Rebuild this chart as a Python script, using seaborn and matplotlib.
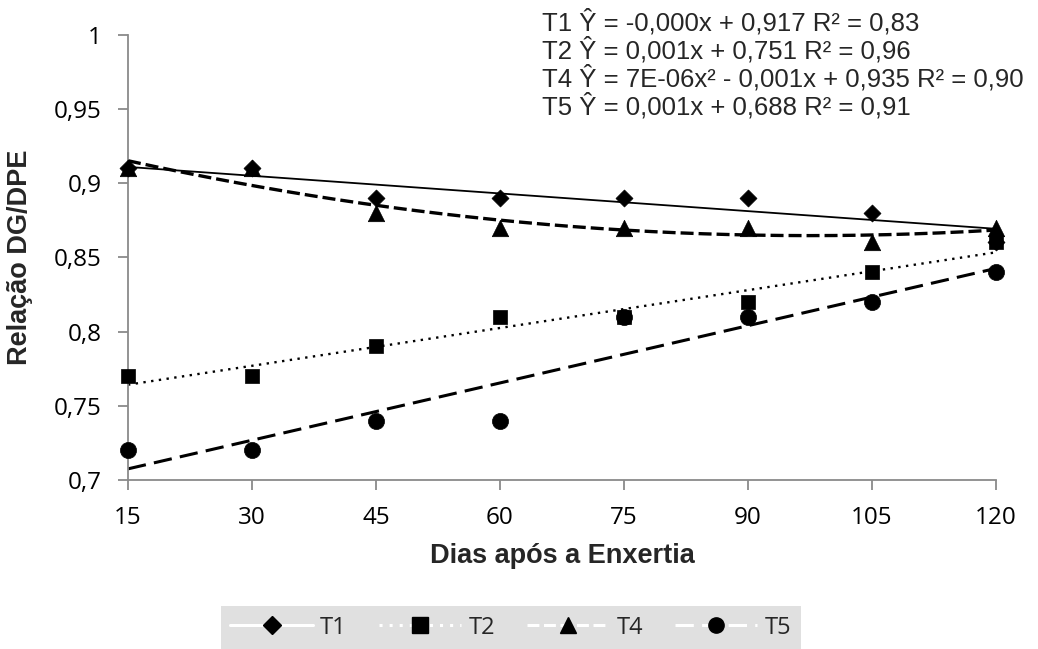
import numpy as np
import pandas as pd
import matplotlib
matplotlib.use("Agg")
import matplotlib.pyplot as plt
import seaborn as sns
from matplotlib.lines import Line2D

days = [15, 30, 45, 60, 75, 90, 105, 120]
t1 = [0.91, 0.91, 0.89, 0.89, 0.89, 0.89, 0.88, 0.86]
t2 = [0.77, 0.77, 0.79, 0.81, 0.81, 0.82, 0.84, 0.86]
t4 = [0.91, 0.91, 0.88, 0.87, 0.87, 0.87, 0.86, 0.87]
t5 = [0.72, 0.72, 0.74, 0.74, 0.81, 0.81, 0.82, 0.84]
series_names = ["T1", "T2", "T4", "T5"]
equations = [
    "T1 Ŷ = -0,000x + 0,917 R² = 0,83",
    "T2 Ŷ = 0,001x + 0,751 R² = 0,96",
    "T4 Ŷ = 7E-06x² - 0,001x + 0,935 R² = 0,90",
    "T5 Ŷ = 0,001x + 0,688 R² = 0,91",
]
yticks = [0.7, 0.75, 0.8, 0.85, 0.9, 0.95, 1.0]
ytick_labels = ["0,7", "0,75", "0,8", "0,85", "0,9", "0,95", "1"]

sns.set_style("white")
plt.rcParams['font.family'] = ['Liberation Sans', 'DejaVu Sans']
TICKFONT = ['Open Sans', 'DejaVu Sans']

fig = plt.figure(figsize=(10.38, 6.49), dpi=100)
ax = fig.add_axes([0.1233, 0.2604, 0.8362, 0.6864])

markers = {"T1": "D", "T2": "s", "T4": "^", "T5": "o"}
msize = {"T1": 75, "T2": 115, "T4": 140, "T5": 135}
styles = {"T1": "-", "T2": (0, (1, 2.3)), "T4": (0, (3.9, 1.5)), "T5": (0, (6.0, 2.7))}
widths = {"T1": 1.3, "T2": 1.7, "T4": 2.4, "T5": 2.2}
degrees = {"T1": 1, "T2": 1, "T4": 2, "T5": 1}
data = {"T1": t1, "T2": t2, "T4": t4, "T5": t5}

x = np.array(days, dtype=float)
xs = np.linspace(15, 120, 200)
for name in series_names:
    y = np.array(data[name])
    coef = np.polyfit(x, y, degrees[name])
    fit = pd.DataFrame({"x": xs, "y": np.polyval(coef, xs)})
    sns.lineplot(data=fit, x="x", y="y", ax=ax, color="black",
                 linestyle=styles[name], linewidth=widths[name], zorder=2)

for name in ["T1", "T5", "T2", "T4"]:
    df = pd.DataFrame({"x": days, "y": data[name]})
    sns.scatterplot(data=df, x="x", y="y", ax=ax, marker=markers[name],
                    s=msize[name], color="black", edgecolor="black",
                    linewidth=0.5, zorder=3, clip_on=False)

ax.set_xlim(15, 120)
ax.set_ylim(0.7, 1.0)
ax.set_xticks(days)
ax.set_xticklabels([str(d) for d in days], fontsize=17.5, family=TICKFONT)
ax.set_yticks(yticks)
ax.set_yticklabels(ytick_labels, fontsize=17.5, family=TICKFONT)
ax.set_xlabel("Dias após a Enxertia", fontsize=19.5, fontweight="bold", labelpad=9)
ax.set_ylabel("Relação DG/DPE", fontsize=19.5, fontweight="bold", labelpad=15)

for side in ["top", "right"]:
    ax.spines[side].set_visible(False)
for side in ["left", "bottom"]:
    ax.spines[side].set_color("#8a8a8a")
    ax.spines[side].set_linewidth(1.3)
ax.tick_params(axis="both", direction="out", length=7, width=1.3,
               color="#8a8a8a", labelcolor="black", pad=12)
ax.tick_params(axis="x", bottom=True)
ax.tick_params(axis="y", left=True)

for i, eq in enumerate(equations):
    fig.text(0.522, 0.9535 - i * 0.0431, eq, fontsize=18.5, ha="left", va="baseline")

handles = []
for name in series_names:
    handles.append(Line2D([0], [0], color="white", linestyle=styles[name], linewidth=2.2,
                          marker=markers[name], markersize=11 if name != "T1" else 9,
                          markerfacecolor="black", markeredgecolor="black"))
leg = fig.legend(handles, series_names, loc="lower center", bbox_to_anchor=(0.492, 0.0),
                 ncol=4, frameon=True, fancybox=False, facecolor="#d9d9d9",
                 edgecolor="#d9d9d9", prop={"family": TICKFONT, "size": 17},
                 handlelength=3.5, columnspacing=1.35, handletextpad=0.3,
                 borderpad=0.4, borderaxespad=0.0)
leg.get_frame().set_linewidth(0)

fig.savefig("out.png", dpi=100)
